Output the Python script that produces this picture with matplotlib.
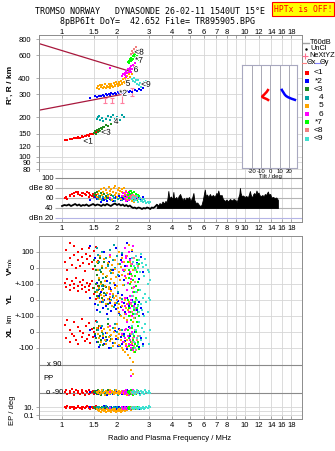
import numpy as np
import matplotlib
matplotlib.use("Agg")
import matplotlib.pyplot as plt
import matplotlib.patheffects as pe
from matplotlib.ticker import NullLocator

plt.rcParams['font.family'] = ['Liberation Sans', 'DejaVu Sans']
plt.rcParams['font.size'] = 5.5

# ---------------- data ----------------
freq_ticks = [1, 1.5, 2, 3, 4, 5, 6, 7, 8, 9, 10, 12, 14, 16, 18]
freq_labels = ['1', '1.5', '2', '3', '4', '5', '6', '7', '8', '', '10', '12', '14', '16', '18']
freq_labels_mid = ['1', '1.5', '2', '3', '4', '5', '6', '7', '8', '9', '10', '12', '14', '16', '18']
h_ticks = [80, 90, 100, 120, 150, 200, 300, 400, 600, 800]

# echo 1 (red)
red_f = [1.04, 1.05, 1.07, 1.10, 1.11, 1.13, 1.16, 1.17, 1.19, 1.22, 1.23, 1.25, 1.28, 1.29, 1.31, 1.34, 1.35, 1.37, 1.40, 1.41, 1.43, 1.46, 1.48, 1.50, 1.53, 1.57]
red_h = [134, 135, 135, 136, 137, 136, 138, 139, 138, 140, 141, 140, 142, 143, 142, 144, 145, 146, 145, 147, 148, 149, 150, 151, 153, 156]
red_db = [60, 62, 59, 66, 64, 68, 70, 65, 72, 69, 73, 66, 70, 64, 71, 68, 66, 72, 63, 70, 67, 65, 69, 62, 66, 60]
red_v = [38, 112, -12, 156, 62, 19, 137, 81, 0, 100, 50, 12, 119, 69, 31, -19, 87, 56, 125, 25, 75, 37, -6, 106, 131, 44]
red_yl = [106, 81, 131, 62, 94, 119, 75, 100, 137, 87, 56, 112, 69, 94, 125, 81, 50, 106, 87, 62, 100, 119, 75, 37, 6, 87]
red_xl = [44, -37, 75, 12, -62, -12, 62, -25, -50, 31, -75, 6, 81, -31, -6, -56, 37, -44, 56, -19, -69, 19, -31, 0, 69, 25]
red_pp = [-84, -71, -96, -77, -90, -64, -103, -84, -71, -90, -77, -96, -84, -71, -90, -103, -77, -84, -96, -71, -90, -84, -77, -96, -84, -90]
red_ep = [10, 6, 18, 10, 6, 10, 3, 10, 6, 18, 10, 6, 10, 3, 10, 6, 10, 18, 6, 10, 3, 10, 6, 10, 18, 6]

# echo 2 (blue)
blue_f = [1.42, 1.52, 1.56, 1.60, 1.64, 1.67, 1.70, 1.73, 1.76, 1.80, 1.83, 1.86, 1.90, 1.94, 1.98, 2.02, 2.06, 2.10, 2.14, 2.18, 2.22, 2.27, 2.32, 2.37, 2.43, 2.50, 2.57, 2.64, 2.71, 2.78]
blue_h = [282, 290, 286, 294, 291, 298, 293, 300, 296, 303, 299, 306, 301, 308, 304, 311, 306, 313, 309, 316, 311, 318, 314, 320, 316, 324, 320, 328, 326, 334]
blue_db = [56, 62, 58, 64, 52, 60, 57, 63, 55, 61, 59, 66, 54, 60, 62, 58, 65, 56, 61, 59, 63, 55, 60, 64, 57, 62, 58, 60, 56, 62]
blue_v = [137, 62, -94, -131, -150, -112, 100, -169, -81, 37, -125, -137, -12, -106, 125, -156, -50, 50, 81, -75, 12, 156, -37, 56, 106, 0, 31, -69, 69, -25]
blue_yl = [12, -25, -62, 25, -12, -50, 0, -37, -87, 6, -19, -69, 19, -31, -56, -6, -81, -44, 31, -19, -75, 12, -37, -100, 0, -25, -62, -12, -50, -87]
blue_xl = [12, -25, -62, -94, 25, -37, -75, -6, -50, -100, 37, -19, -69, 6, -44, -87, 19, -31, -75, -12, -56, -106, 31, -25, -81, 0, -50, -94, -37, -75]
blue_pp = [-84, -90, -77, -96, -84, -71, -90, -84, -103, -77, -90, -84, -96, -71, -84, -90, -77, -84, -96, -90, -84, -71, -90, -84, -77, -96, -84, -90, -77, -84]
blue_ep = [10, 6, 10, 3, 6, 10, 18, 6, 10, 3, 6, 10, 6, 10, 3, 6, 10, 6, 3, 10, 6, 10, 3, 6, 10, 6, 10, 3, 6, 10]

# echo 3 (dark green)
dg_f = [1.50, 1.52, 1.54, 1.56, 1.57, 1.59, 1.61, 1.63, 1.65, 1.67, 1.70, 1.73, 1.78, 1.85]
dg_h = [152, 156, 150, 160, 155, 163, 158, 166, 162, 170, 168, 175, 172, 178]
dg_db = [66, 70, 64, 72, 68, 74, 65, 70, 67, 62, 69, 64, 60, 66]
dg_v = [50, 12, -12, -44, 31, -75, 62, -25, 0, -106, 37, -56, 19, -12]
dg_yl = [75, 50, 100, 25, 62, 87, 37, 112, 12, 69, 44, 81, -25, 56]
dg_xl = [25, -12, -37, 12, -62, 37, -25, -50, 0, -81, 19, -31, 50, -44]
dg_pp = [-84, -77, -90, -96, -71, -84, -90, -103, -77, -84, -90, -96, -71, -84]
dg_ep = [10, 6, 3, 10, 6, 10, 3, 6, 10, 3, 6, 10, 6, 3]

# echo 4 (teal)
teal_f = [1.55, 1.57, 1.60, 1.62, 1.65, 1.68, 1.74, 1.78, 1.82, 1.86, 1.90, 1.93, 1.96, 2.00, 2.03, 2.07, 2.12, 2.18]
teal_h = [195, 200, 205, 192, 198, 188, 196, 204, 190, 200, 208, 185, 195, 203, 180, 192, 210, 200]
teal_db = [62, 58, 65, 60, 56, 63, 59, 66, 61, 57, 64, 60, 55, 62, 58, 60, 56, 62]
teal_v = [125, 81, 37, -12, 100, -62, 62, 12, 112, -31, 50, 144, 0, 75, -44, 25, 94, -19]
teal_yl = [62, -31, 12, -75, 87, -12, 37, -56, 106, 0, 25, -44, 75, -19, 50, -94, 6, 94]
teal_xl = [62, 12, -37, -81, 37, -12, -56, 81, -25, -100, 25, -69, 50, 0, -44, -87, 12, -25]
teal_pp = [-84, -90, -77, -96, -84, -71, -90, -84, -96, -77, -90, -84, -71, -90, -103, -84, -77, -90]
teal_ep = [10, 6, 10, 3, 6, 10, 18, 6, 10, 3, 6, 10, 6, 10, 3, 6, 10, 6]

# echo 5 (orange)
or_f = [1.55, 1.58, 1.60, 1.62, 1.64, 1.66, 1.68, 1.70, 1.72, 1.74, 1.76, 1.78, 1.80, 1.82, 1.84, 1.86, 1.88, 1.90, 1.92, 1.94, 1.96, 1.98,
        2.00, 2.02, 2.04, 2.06, 2.08, 2.10, 2.12, 2.14, 2.16, 2.18, 2.20, 2.22, 2.24, 2.26, 2.28, 2.30, 2.33, 2.36, 2.39, 2.42, 2.45, 2.49]
or_h = [335, 348, 330, 352, 340, 356, 334, 345, 360, 338, 350, 342, 358, 346, 336, 362, 350, 344, 366, 354, 348, 372,
        358, 350, 376, 362, 356, 384, 368, 362, 392, 375, 368, 402, 385, 378, 415, 398, 430, 410, 450, 428, 470, 495]
or_db = [62, 68, 74, 58, 78, 66, 72, 80, 60, 76, 70, 64, 82, 74, 68, 78, 56, 72, 80, 66, 84, 70,
         62, 76, 80, 68, 74, 58, 78, 72, 64, 80, 70, 60, 74, 66, 56, 70, 62, 58, 66, 54, 60, 52]
or_v = [37, -12, -62, 75, -100, 12, -37, 56, -81, 0, -50, 31, -119, -19, 69, -69, 19, -31, -94, 50, -6, -56,
        -112, 25, -25, 100, -75, 6, 62, -44, -106, 37, -12, 125, -62, 12, 75, -37, 144, 37, -87, 112, -12, 62]
or_yl = [50, 12, 75, -12, 31, 62, 0, 25, 87, -25, 44, 6, 69, 19, -6, 56, -37, 37, 12, -19, 75, 25,
         0, -50, -25, -75, 12, -100, -37, -12, -62, -112, 0, -87, -50, -25, -125, -62, -12, -100, -75, -37, -137, -87]
or_xl = [25, -12, -37, 37, -62, 6, -25, 19, -50, -75, -6, 31, -31, -56, 12, -19, -44, -87, 0, 25, -69, -25,
         50, -37, -12, -81, 12, -50, -100, -19, -112, -62, -37, -125, -75, -94, -50, -144, -87, -162, -106, -75, -187, -125]
or_pp = [-84, -90, -77, -96, -84, -71, -90, -84, -103, -77, -90, -84, -96, -71, -84, -90, -77, -84, -96, -90, -84, -71,
         -90, -84, -77, -96, -84, -90, -77, -84, -90, -96, -84, -77, -90, -84, -103, -90, -84, -77, 60, -90, 30, -84]
or_ep = [3, 1.8, 1, 3, 0.6, 1.8, 3, 1, 1.8, 0.6, 3, 1, 1.8, 3, 1, 0.6, 1.8, 3, 1, 1.8, 3, 0.6,
         1, 1.8, 3, 1, 1.8, 0.6, 3, 1, 1.8, 3, 1, 1.8, 6, 3, 1.8, 3, 6, 3, 1.8, 6, 3, 6]

# echo 6 (magenta)
mg_f = [1.83, 2.14, 2.17, 2.20, 2.22, 2.25, 2.27, 2.30, 2.32, 2.35, 2.37, 2.40, 2.42, 2.45, 2.47, 2.50, 2.24, 2.38]
mg_h = [478, 418, 430, 442, 425, 455, 438, 468, 450, 480, 462, 495, 475, 510, 488, 520, 410, 445]
mg_db = [60, 64, 70, 58, 66, 72, 62, 68, 56, 74, 64, 60, 70, 66, 58, 62, 54, 68]
mg_v = [81, 37, -12, 125, -50, 62, 12, -94, 100, -25, 50, -69, 25, 137, -119, 0, 75, -37]
mg_yl = [37, -12, -62, 12, -37, -87, 62, -25, -75, 25, -50, 0, -100, 50, -37, -62, 12, -19]
mg_xl = [37, -12, -62, 12, -37, -87, 62, -25, -75, 25, -50, -100, 0, -112, -31, -69, 19, -81]
mg_pp = [-84, -90, -77, -96, -84, -71, -90, -84, -103, -77, -90, 20, -96, -71, -84, -90, -77, -84]
mg_ep = [6, 10, 3, 6, 10, 6, 3, 10, 6, 3, 6, 10, 3, 6, 10, 6, 3, 6]

# echo 7 (green)
gr_f = [2.30, 2.32, 2.34, 2.36, 2.38, 2.40, 2.42, 2.44, 2.46, 2.48, 2.50, 2.52, 2.54, 2.56, 2.58, 2.60, 2.62, 2.64]
gr_h = [530, 545, 520, 560, 540, 575, 555, 590, 565, 600, 578, 612, 585, 560, 595, 570, 548, 580]
gr_db = [66, 72, 60, 68, 74, 62, 70, 58, 66, 72, 64, 60, 68, 56, 62, 66, 58, 64]
gr_v = [37, -12, -62, -100, 12, -37, -125, 62, -75, -150, 0, -50, -112, 50, -25, -87, -137, 25]
gr_yl = [0, -50, -100, -25, -75, -125, -37, 25, -87, -62, -12, -112, 12, -137, -50, -75, -31, -100]
gr_xl = [12, -37, -87, -12, -62, -112, 25, -50, -100, -25, -75, -125, 0, -87, -37, -62, 37, -106]
gr_pp = [-84, -90, -77, -96, -84, -71, -90, -84, -103, -77, -90, -84, -96, -71, -84, -90, -77, -84]
gr_ep = [6, 10, 3, 6, 10, 6, 3, 10, 6, 3, 6, 10, 3, 6, 10, 6, 3, 6]

# echo 8 (salmon)
pk_f = [2.40, 2.43, 2.46, 2.48, 2.51, 2.54, 2.57, 2.60]
pk_h = [615, 650, 630, 672, 645, 690, 660, 640]
pk_db = [62, 58, 66, 60, 64, 56, 62, 58]
pk_v = [25, -50, -125, 62, -87, -12, -150, 12]
pk_yl = [-25, -75, 25, -112, -50, 0, -87, -37]
pk_xl = [-12, -62, -37, -87, 12, -112, -50, -25]
pk_pp = [-84, -90, -77, -96, -84, -90, -77, -84]
pk_ep = [6, 10, 3, 6, 10, 6, 3, 6]

# echo 9 (turquoise)
cy_f = [2.42, 2.45, 2.48, 2.51, 2.54, 2.57, 2.60, 2.63, 2.66, 2.70, 2.74, 2.78, 2.82, 2.86, 2.90, 2.94, 2.98, 3.02]
cy_h = [395, 380, 402, 372, 390, 360, 385, 352, 370, 345, 362, 355, 372, 360, 378, 365, 380, 372]
cy_db = [58, 62, 54, 60, 56, 64, 52, 58, 60, 54, 56, 52, 58, 54, 50, 52, 50, 52]
cy_v = [62, 37, 12, -12, 75, 25, 0, 50, -25, 87, 31, 6, -50, 56, 19, -12, -25, -75]
cy_yl = [25, -12, -50, -87, 50, 0, -37, -75, 62, -25, -62, 12, -100, 37, -12, 100, 12, 0]
cy_xl = [37, -12, -62, -100, 12, -37, -75, 62, -25, -50, 25, -87, 0, 50, -37, 125, -75, 12]
cy_pp = [-84, -90, -77, -96, -84, -71, -90, -84, -103, -77, -90, -84, -96, -71, -84, -90, -77, -90]
cy_ep = [6, 10, 3, 6, 10, 6, 3, 10, 6, 3, 6, 10, 3, 6, 10, 6, 18, 10]

echo_names = ['<1', '*2', '<3', '4', '5', '6', '*7', '<8', '<9']
echo_colors = ['#ff0000', '#0000ff', '#1f8a1f', '#00a3a3', '#ffa500', '#ff00ff', '#00ff00', '#f08080', '#40e0d0']

# echo labels in the height panel
lab_txt = ['<1', '<3', '4', '*2', '5', '<9', '6', '*7', '<8']
lab_f = [1.39, 1.74, 1.98, 2.16, 2.30, 2.88, 2.54, 2.64, 2.64]
lab_h = [129, 151, 183, 302, 359, 353, 458, 540, 625]

# model profile lines
prof_up_f = [0.748, 2.33]
prof_up_h = [739, 454]
prof_lo_f = [0.748, 2.12]
prof_lo_h = [227, 300]

# NeXtYZ error bars
nxt_f = [1.72, 1.88, 2.13, 2.42]
nxt_h = [270, 272, 282, 316]
nxt_lo = [259, 260, 260, 293]
nxt_hi = [282, 284, 305, 338]

# tilt
tiltx_h = [330, 322, 314, 306, 298, 292, 288, 284, 280, 276, 272, 268]
tiltx = [-2, -3, -4, -5.5, -7, -8.5, -9, -8, -6, -4, -2.5, -1.5]
tilty_h = [332, 324, 316, 308, 300, 292, 286, 282, 278, 275, 272, 270]
tilty = [12, 12.5, 13.5, 14.5, 15.5, 17, 19, 21, 23, 25, 27, 28]

# noise (black) in dB panel
noise_lo_f = [1.00, 1.03, 1.06, 1.09, 1.12, 1.15, 1.18, 1.21, 1.24, 1.27, 1.30, 1.33, 1.36, 1.40, 1.44, 1.48, 1.52,
              1.56, 1.60, 1.64, 1.68, 1.72, 1.76, 1.80, 1.85, 1.90, 1.95, 2.00, 2.05, 2.10, 2.15, 2.20, 2.25, 2.30,
              2.35, 2.40, 2.45, 2.50, 2.56, 2.62, 2.68, 2.74, 2.80, 2.86, 2.92, 2.98, 3.04, 3.10, 3.16, 3.22, 3.30]
noise_lo_db = [44, 46, 45, 47, 44, 46, 48, 45, 47, 44, 46, 45, 47, 44, 46, 48, 45,
               47, 46, 44, 47, 45, 48, 46, 44, 47, 49, 46, 48, 45, 47, 44, 46, 43,
               45, 42, 40, 41, 39, 41, 40, 38, 40, 39, 41, 40, 38, 41, 40, 42, 46]
noise_hi_f = [3.30, 3.36, 3.42, 3.48, 3.55, 3.62, 3.68, 3.74, 3.78, 3.82, 3.85, 3.90, 3.95, 4.00, 4.04, 4.07, 4.10,
              4.15, 4.22, 4.28, 4.35, 4.43, 4.50, 4.58, 4.65, 4.72, 4.80, 4.88, 4.95, 5.05, 5.15, 5.24, 5.30, 5.40,
              5.50, 5.60, 5.70, 5.80, 5.90, 5.97, 6.05, 6.12, 6.22, 6.32, 6.45, 6.55, 6.70, 6.85, 7.00, 7.10, 7.17,
              7.25, 7.35, 7.48, 7.60, 7.80, 7.95, 8.10, 8.31, 8.50, 8.70, 8.90, 9.05, 9.20, 9.35, 9.42, 9.50, 9.65,
              9.80, 10.0, 10.2, 10.4, 10.55, 10.68, 10.8, 11.0, 11.15, 11.3, 11.45, 11.6, 11.75, 11.9, 12.1, 12.3,
              12.5, 12.7, 12.9, 13.1, 13.25, 13.4, 13.55, 13.8, 14.0, 14.3, 14.6, 14.9, 15.1, 15.2]
noise_hi_db = [48, 45, 50, 47, 53, 49, 54, 52, 60, 74, 64, 60, 63, 58, 62, 72, 61,
               59, 62, 57, 64, 68, 61, 56, 60, 55, 61, 58, 62, 55, 60, 70, 56, 50,
               51, 47, 44, 46, 56, 66, 77, 64, 67, 62, 68, 63, 66, 62, 70, 68, 75,
               67, 65, 66, 58, 54, 57, 53, 58, 55, 58, 56, 52, 60, 68, 80, 70, 63,
               65, 62, 64, 61, 67, 74, 66, 61, 68, 70, 66, 75, 69, 71, 65, 64,
               66, 63, 68, 66, 70, 73, 67, 68, 61, 62, 60, 61, 58, 56]
noise_floor = 40

# ---------------- layout helpers ----------------
W, H = 335, 451
fig = plt.figure(figsize=(W / 100, H / 100), dpi=100)


def px_box(x0, y0, x1, y1):
    return [x0 / W, 1 - y1 / H, (x1 - x0) / W, (y1 - y0) / H]


FMIN, FMAX = 0.748, 20.6
frame_c = '#8c8c8c'
grid_c = '#d6d6d6'
MS = 4.6


def freq_axis(ax, labels, top=False):
    ax.set_xscale('log')
    ax.set_xlim(FMIN, FMAX)
    ax.set_xticks(freq_ticks, labels=labels)
    ax.xaxis.set_minor_locator(NullLocator())
    if top:
        ax.xaxis.tick_top()
    ax.tick_params(axis='x', direction='in', length=2, width=0.5, color=frame_c, pad=1, labelsize=5.5)
    for f in freq_ticks:
        ax.axvline(f, color=grid_c, lw=0.6, zorder=0)
    for s in ax.spines.values():
        s.set_color(frame_c)
        s.set_linewidth(0.7)


# bottom panel band mappings (V*, YL, XL, PP, EP bands stacked)
def row_v(v):
    return 268 - 0.16 * np.asarray(v, float)


def row_yl(v):
    return 300 - 0.16 * np.asarray(v, float)


def row_xl(v):
    return 332 - 0.16 * np.asarray(v, float)


def row_pp(p):
    return 379 - np.asarray(p, float) * 14 / 90


def row_ep(e):
    return 411 - 4 * np.log10(np.asarray(e, float))


clusters = [
    (red_f, red_h, red_db, red_v, red_yl, red_xl, red_pp, red_ep),
    (blue_f, blue_h, blue_db, blue_v, blue_yl, blue_xl, blue_pp, blue_ep),
    (dg_f, dg_h, dg_db, dg_v, dg_yl, dg_xl, dg_pp, dg_ep),
    (teal_f, teal_h, teal_db, teal_v, teal_yl, teal_xl, teal_pp, teal_ep),
    (or_f, or_h, or_db, or_v, or_yl, or_xl, or_pp, or_ep),
    (mg_f, mg_h, mg_db, mg_v, mg_yl, mg_xl, mg_pp, mg_ep),
    (gr_f, gr_h, gr_db, gr_v, gr_yl, gr_xl, gr_pp, gr_ep),
    (pk_f, pk_h, pk_db, pk_v, pk_yl, pk_xl, pk_pp, pk_ep),
    (cy_f, cy_h, cy_db, cy_v, cy_yl, cy_xl, cy_pp, cy_ep),
]

# ---------------- height panel ----------------
ax_h = fig.add_axes(px_box(39, 35, 302, 172))
freq_axis(ax_h, freq_labels, top=True)
ax_h.tick_params(axis='x', pad=-0.8)
ax_h.set_yscale('log')
ax_h.set_ylim(76, 860)
ax_h.set_yticks(h_ticks, labels=[str(t) for t in h_ticks])
ax_h.yaxis.set_minor_locator(NullLocator())
ax_h.tick_params(axis='y', length=2, width=0.5, color=frame_c, pad=4, labelsize=5.5)
for t in h_ticks:
    ax_h.axhline(t, color=grid_c, lw=0.6, zorder=0)
ax_h.spines['bottom'].set_visible(False)

ax_h.plot(prof_up_f, prof_up_h, color='#a8173c', lw=0.9, zorder=2)
ax_h.plot(prof_lo_f, prof_lo_h, color='#a8173c', lw=0.9, zorder=2)
nxt_err = [np.array(nxt_h) - np.array(nxt_lo), np.array(nxt_hi) - np.array(nxt_h)]
ax_h.errorbar(nxt_f, nxt_h, yerr=nxt_err, fmt='none', ecolor='#ff7f9f', elinewidth=0.8, capsize=1.3,
              capthick=0.8, zorder=3)

for (f, h, db, v, yl, xl, pp, ep), col in zip(clusters, echo_colors):
    ax_h.scatter(f, h, marker='s', s=MS, color=col, linewidths=0, zorder=4)

for t, f, h in zip(lab_txt, lab_f, lab_h):
    ax_h.text(f, h, t, fontsize=6, color='black', ha='center', va='center', zorder=6,
              path_effects=[pe.withStroke(linewidth=1.5, foreground='white')])

fig.text(10 / W, 1 - 85 / H, "R', R / km", rotation=90, ha='center', va='center', fontsize=6, fontweight='bold')

# ---------------- tilt inset ----------------
ax_t = fig.add_axes(px_box(242, 65, 297, 168), zorder=5)
ax_t.set_facecolor('white')
ax_t.set_xlim(-31, 29)
ax_t.set_yscale('log')
ax_t.set_ylim(81.5, 505)
ax_t.yaxis.set_major_locator(NullLocator())
ax_t.yaxis.set_minor_locator(NullLocator())
ax_t.set_xticks([-20, -10, 0, 10, 20], labels=['-20', '-10', '0', '10', '20'])
ax_t.tick_params(axis='x', length=0, pad=1, labelsize=4.3)
for t in [-20, -10, 0, 10, 20]:
    ax_t.axvline(t, color='#9a9aa8', lw=0.6, zorder=0)
for s in ax_t.spines.values():
    s.set_color('#a8a8c0')
    s.set_linewidth(0.8)
ax_t.plot(tiltx, tiltx_h, color='#ff0000', lw=1.8, solid_capstyle='butt')
ax_t.plot(tilty, tilty_h, color='#0000ff', lw=1.8, solid_capstyle='butt')
fig.text(270 / W, 1 - 176.5 / H, 'Tilt / deg', ha='center', va='center', fontsize=4.3, zorder=6)

# ---------------- amplitude panel ----------------
ax_db = fig.add_axes(px_box(39, 172, 302, 222))
freq_axis(ax_db, freq_labels_mid)
ax_db.tick_params(axis='x', pad=2.5)
ax_db.set_ylim(12, 112)
ax_db.spines['top'].set_visible(False)
ax_db.spines['left'].set_visible(False)
db_lines = [100, 80, 60, 40, 20]
db_cols = ['#8a8a8a', '#b4b4b4', '#b4b4b4', '#b4b4b4', '#b4b4e6']
for lvl, c in zip(db_lines, db_cols):
    ax_db.hlines(lvl, 0.916, FMAX, color=c, lw=0.8, zorder=1)
ax_db.set_yticks(db_lines, labels=['100', 'dBe 80', '60', '40', 'dBn 20'])
ax_db.tick_params(axis='y', length=0, pad=-10.5, labelsize=5.5)

ax_db.plot(noise_lo_f, noise_lo_db, color='black', lw=1.3, zorder=2)
ax_db.fill_between(noise_hi_f, noise_floor, noise_hi_db, color='black', lw=0.6, zorder=2)
for (f, h, db, v, yl, xl, pp, ep), col in zip(clusters, echo_colors):
    ax_db.scatter(f, db, marker='s', s=MS, color=col, linewidths=0, zorder=4)

# ---------------- bottom panel ----------------
ax_b = fig.add_axes(px_box(39, 236, 302, 419))
freq_axis(ax_b, freq_labels)
ax_b.tick_params(axis='x', pad=2)
ax_b.set_ylim(419, 236)
b_rows = [row_v(100), row_v(0), row_v(-100), row_yl(0), row_yl(-100), row_xl(0), row_xl(-100),
          row_ep(10), row_ep(0.1)]
b_labels = ['100', '0', '+-100', '0', '+-100', '0', '-100', '10.', '0.1']
ax_b.set_yticks([float(r) for r in b_rows], labels=b_labels)
ax_b.tick_params(axis='y', length=2, width=0.5, color=frame_c, pad=1.5, labelsize=5.5)
for r in b_rows + [row_ep(1)]:
    ax_b.axhline(float(r), color=grid_c, lw=0.6, zorder=0)
for r in [row_pp(90), row_pp(-90)]:
    ax_b.axhline(float(r), color='#8a8a8a', lw=0.8, zorder=1)

for (f, h, db, v, yl, xl, pp, ep), col in zip(clusters, echo_colors):
    for rows in (row_v(v), row_yl(yl), row_xl(xl), row_pp(pp), row_ep(ep)):
        ax_b.scatter(f, rows, marker='s', s=MS, color=col, linewidths=0, zorder=4)

bt = ax_b.get_yaxis_transform()
ax_b.text(0.03, float(row_pp(90)), 'x 90', transform=bt, ha='left', va='center', fontsize=5.5)
ax_b.text(0.026, float(row_pp(-90)), 'o -90', transform=bt, ha='left', va='center', fontsize=5.5)
ax_b.text(0.016, float(row_pp(0)), 'PP', transform=bt, ha='left', va='center', fontsize=5.5)

fig.text(10 / W, 1 - 271 / H, 'V*', rotation=90, ha='center', va='center', fontsize=6, fontweight='bold')
fig.text(10 / W, 1 - 262 / H, 'm/s', rotation=90, ha='center', va='center', fontsize=4.3)
fig.text(10 / W, 1 - 299 / H, 'YL', rotation=90, ha='center', va='center', fontsize=6, fontweight='bold')
fig.text(10 / W, 1 - 318 / H, 'km', rotation=90, ha='center', va='center', fontsize=5)
fig.text(10 / W, 1 - 332 / H, 'XL', rotation=90, ha='center', va='center', fontsize=6, fontweight='bold')
fig.text(13 / W, 1 - 410 / H, 'EP / deg', rotation=90, ha='center', va='center', fontsize=5.5)
fig.text(170 / W, 1 - 439 / H, 'Radio and Plasma Frequency / MHz', ha='center', va='center', fontsize=5.5)

# ---------------- legend ----------------
ax_l = fig.add_axes(px_box(300, 36, 335, 145))
ax_l.set_xlim(300, 335)
ax_l.set_ylim(145, 36)
ax_l.axis('off')
ax_l.plot([303, 309], [42.5, 42.5], color='#a0a0a0', lw=1)
ax_l.text(310, 42.5, 'T60dB', va='center', fontsize=5.3)
ax_l.plot([306], [49], 'k.', ms=1.5)
ax_l.text(310, 49, 'UnCl', va='center', fontsize=5.3)
ax_l.plot([305], [55.5], marker='+', color='#ff7090', ms=4, mew=0.8)
ax_l.text(309, 55.5, 'NeXtYZ', va='center', fontsize=5.3)
ax_l.plot([301.5, 306], [62.5, 62.5], color='#ff8080', lw=0.8)
ax_l.text(306.5, 62.5, '\u0398x', va='center', fontsize=5.3)
ax_l.plot([315, 319.5], [62.5, 62.5], color='#8080ff', lw=0.8)
ax_l.text(320, 62.5, '\u0398y', va='center', fontsize=5.3)
for i, (name, col) in enumerate(zip(echo_names, echo_colors)):
    y = 73 + i * 8.2
    ax_l.plot([307], [y], marker='s', color=col, ms=2.6, mew=0)
    ax_l.text(323, y, name, va='center', ha='right', fontsize=6)

# ---------------- header ----------------
fig.text(35 / W, 1 - 12 / H, 'TROMSO NORWAY   DYNASONDE 26-02-11 1540UT 15\u00b0E',
         family='DejaVu Sans Mono', fontsize=6, va='center', ha='left')
fig.text(60 / W, 1 - 21 / H, '8pBP6It DoY=  42.652 File= TR895905.BPG',
         family='DejaVu Sans Mono', fontsize=6, va='center', ha='left')
fig.text(303 / W, 1 - 9 / H, 'HPTx is OFF!', family='DejaVu Sans Mono', fontsize=5.8, color='#ff0000',
         ha='center', va='center',
         bbox=dict(boxstyle='square,pad=0.25', facecolor='#ffff00', edgecolor='#ff0000', lw=0.8))

fig.savefig('out.png', dpi=100, facecolor='white')
